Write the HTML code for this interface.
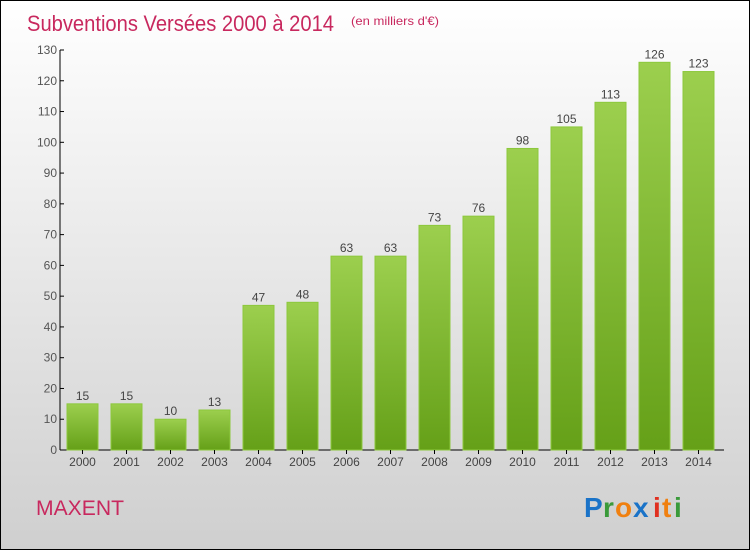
<!DOCTYPE html>
<html><head><meta charset="utf-8"><style>
body{margin:0}
#wrap{position:relative;width:748px;height:548px;border:1px solid #000;background:linear-gradient(#ffffff,#cfcfcf);font-family:"Liberation Sans",sans-serif;overflow:hidden}
</style></head><body>
<div id="wrap">
<svg id="chart" width="748" height="548">
<defs><linearGradient id="g" x1="0" y1="0" x2="0" y2="1"><stop offset="0" stop-color="#9ccf4e"/><stop offset="1" stop-color="#65a018"/></linearGradient></defs>
<text x="26" y="30" font-size="22" fill="#c8285e" textLength="307" lengthAdjust="spacingAndGlyphs">Subventions Versées 2000 à 2014</text>
<text x="350" y="24" font-size="12" fill="#c8285e" textLength="88" lengthAdjust="spacingAndGlyphs">(en milliers d'€)</text>
<text x="35" y="514" font-size="21" fill="#c8285e" textLength="88" lengthAdjust="spacingAndGlyphs">MAXENT</text>
<g font-size="28" font-weight="bold">
<text x="583" y="516" fill="#1a73c8">P</text><text x="602" y="516" fill="#3a9a3a">r</text><text x="614" y="516" fill="#f08010">o</text><text x="632" y="516" fill="#1a73c8">x</text><text x="652" y="516" fill="#e03020">i</text><text x="661" y="516" fill="#f08010">t</text><text x="673" y="516" fill="#3a9a3a">i</text>
</g>
<g id="plot"></g>
</svg>
</div>
<script>
const years=["2000","2001","2002","2003","2004","2005","2006","2007","2008","2009","2010","2011","2012","2013","2014"];
const values=[15,15,10,13,47,48,63,63,73,76,98,105,113,126,123];
const yTicks=[0,10,20,30,40,50,60,70,80,90,100,110,120,130];
const NS="http://www.w3.org/2000/svg";
const g=document.getElementById('plot');
const x0=59,y0=449,yMax=130,plotH=400,step=44,bw=31;
const yS=v=>y0-v/yMax*plotH;
const xS=i=>x0+7+i*step;
function mk(t,a){const e=document.createElementNS(NS,t);for(const k in a)e.setAttribute(k,a[k]);g.appendChild(e);return e;}
let ax=mk('line',{x1:x0,y1:yS(yMax),x2:x0,y2:y0,stroke:'#000'});


let bx=mk('line',{x1:x0,y1:y0,x2:x0+step*years.length+4,y2:y0,stroke:'#000'});


yTicks.forEach(v=>{
 mk('line',{x1:x0,y1:yS(v),x2:x0+4,y2:yS(v),stroke:'#000'});
 const t=mk('text',{x:x0-3,y:yS(v)+4,'font-size':12,fill:'#555','text-anchor':'end'});t.textContent=v;
 
 
});
years.forEach((y,i)=>{
 const v=values[i],x=xS(i);
 const r=mk('rect',{x:x,y:yS(v),width:bw,height:y0-yS(v),fill:'url(#g)',stroke:'#8cc83c','stroke-width':1});
 
 
 const l=mk('text',{x:x+bw/2,y:yS(v)-4,'font-size':12,fill:'#444','text-anchor':'middle'});l.textContent=v;
 
 
 mk('line',{x1:x+bw/2,y1:y0,x2:x+bw/2,y2:y0+4,stroke:'#000'});
 const t=mk('text',{x:x+bw/2,y:y0+16,'font-size':12,fill:'#444','text-anchor':'middle'});t.textContent=y;
 
 
});
</script>
</body></html>
